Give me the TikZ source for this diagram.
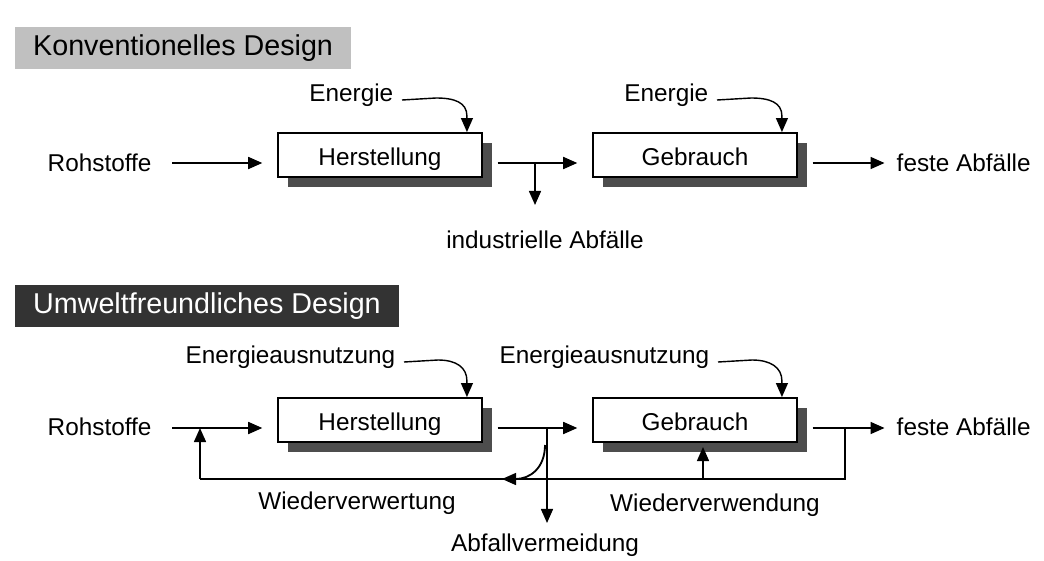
\documentclass[tikz,border=0pt]{standalone}
\usepackage{fontspec}
\setmainfont{Liberation Sans}
\usetikzlibrary{arrows.meta,calc,shadows}
\definecolor{shadowgray}{HTML}{4D4D4D}
\definecolor{headlight}{HTML}{C0C0C0}
\definecolor{headdark}{HTML}{333333}

\begin{document}
\begin{tikzpicture}[x=0.025cm,y=-0.025cm,>={Triangle[length=10pt,width=8.5pt]},
  line width=1.3pt,
  every node/.style={font=\fontsize{17.3}{20}\selectfont},
  lbl/.style={inner sep=2pt},
  stage/.style={draw,fill=white,line width=1.3pt,minimum width=5.1cm,minimum height=1.1cm,
    text height=19pt,text depth=4pt,
    general shadow={fill=shadowgray,shadow xshift=7.1pt,shadow yshift=-7.1pt}},
  head/.style={anchor=west,minimum height=1.05cm,inner xsep=13pt,font=\fontsize{20.4}{24}\selectfont}]
  \useasboundingbox (0,0) rectangle (1044,560);
  % headings
  \node[head,fill=headlight] (konv) at (14,48) {Konventionelles Design};
  \node[head,fill=headdark,text=white] (umwelt) at (14,306) {Umweltfreundliches Design};

  % conventional design
  \node[stage] (herst1) at (380,155) {Herstellung};
  \node[stage] (gebr1) at (695,155) {Gebrauch};
  \node[lbl,anchor=west] (roh1) at (44,163) {Rohstoffe};
  \node[lbl,anchor=west] (fest1) at (893,163) {feste Abfälle};
  \node[lbl] (ind1) at (545,240) {industrielle Abfälle};
  \node[lbl,anchor=east] (en1) at (397,95) {Energie};
  \node[lbl,anchor=east] (en2) at (712,95) {Energie};
  \coordinate (j1) at (535,163);
  \coordinate (k1) at (535,205);
  \draw[->,shorten <=12pt,shorten >=10.5pt] (roh1.east) -- (herst1.west |- roh1.east);
  \draw[->,shorten <=10.5pt,shorten >=10.5pt] (herst1.east |- j1) -- (gebr1.west |- j1);
  \draw[->] (j1) -- (k1);
  \draw[->,shorten <=10.5pt,shorten >=6pt] (gebr1.east |- fest1.west) -- (fest1.west);

  % environmental design
  \node[stage] (herst2) at (380,420) {Herstellung};
  \node[stage] (gebr2) at (695,420) {Gebrauch};
  \node[lbl,anchor=west] (roh2) at (44,427) {Rohstoffe};
  \node[lbl,anchor=west] (fest2) at (893,427) {feste Abfälle};
  \node[lbl,anchor=east] (en3) at (399,357) {Energieausnutzung};
  \node[lbl,anchor=east] (en4) at (713,357) {Energieausnutzung};
  \node[lbl] (verw) at (357,503) {Wiederverwertung};
  \node[lbl] (wend) at (715,505) {Wiederverwendung};
  \node[lbl] (verm) at (545,545) {Abfallvermeidung};
  \coordinate (j2) at (547,428);
  \coordinate (k2) at (547,523);
  \coordinate (j3) at (845,428);
  \coordinate (b1) at (200,479);
  \coordinate (u1) at (200,428);
  \coordinate (b2) at (703,479);
  \coordinate (u2) at (703,447);
  \coordinate (b3) at (845,479);
  \coordinate (c1) at (545,445);
  \coordinate (c2) at (502,479);
  \draw[->,shorten <=12pt,shorten >=10.5pt] (roh2.east |- j2) -- (herst2.west |- j2);
  \draw[->,shorten <=10.5pt,shorten >=10.5pt] (herst2.east |- j2) -- (gebr2.west |- j2);
  \draw[->,shorten <=10.5pt,shorten >=6pt] (gebr2.east |- j3) -- (fest2.west |- j3);
  \draw[->] (j2) -- (k2);
  \draw (j3) -- (b3) -- (b1);
  \draw[->] (b1) -- (u1);
  \draw[->] (b2) -- (u2);
  \draw[->] (c1) .. controls (545,468) and (530,479) .. (c2);

  % energy feeds
  \foreach \e/\b in {en1/herst1,en2/gebr1,en3/herst2,en4/gebr2}
    \draw[->,line width=1pt] ($(\e.east)+(5,5)$) -- ++(34,-2)
      .. controls +(18,0) and +(0,-14) .. ($(\b.north east)+(-16,-16)$)
      -- ($(\b.north east)+(-16,0)$);
\end{tikzpicture}
\end{document}
